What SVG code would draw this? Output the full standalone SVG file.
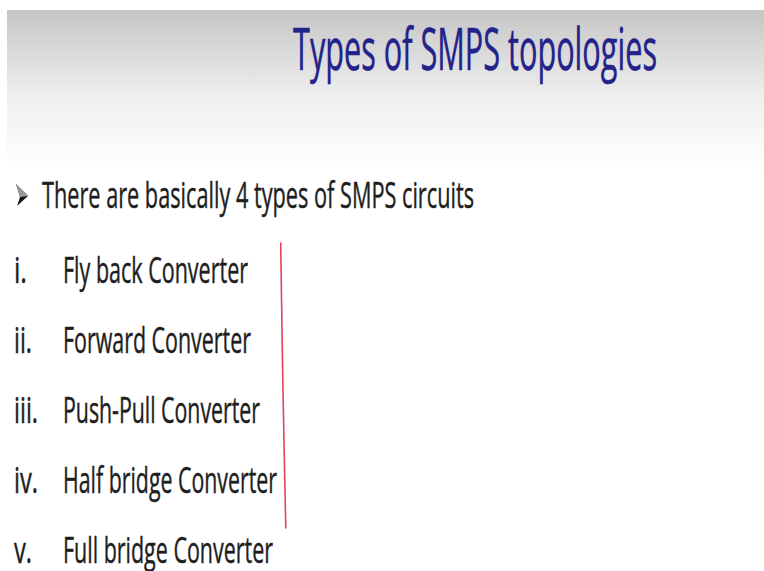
<svg xmlns="http://www.w3.org/2000/svg" width="764" height="571" viewBox="0 0 764 571">
  <defs>
    <linearGradient id="hdr" x1="0" y1="0" x2="0" y2="1">
      <stop offset="0" stop-color="#c6c6c6"/>
      <stop offset="0.55" stop-color="#efefef"/>
      <stop offset="1" stop-color="#ffffff"/>
    </linearGradient>
  </defs>
  <style>
    .title { font-family: "Open Sans", "Noto Sans", sans-serif; font-size: 58px; fill: #22228a; stroke: #22228a; stroke-width: 0.5px; }
    .body, .num { font-family: "Open Sans", "Noto Sans", sans-serif; font-size: 37px; fill: #1e1e1e; stroke: #1e1e1e; stroke-width: 0.45px; }
  </style>
  <rect width="764" height="571" fill="#ffffff"/>
  <!-- header band -->
  <rect x="7" y="10" width="757" height="160" fill="url(#hdr)"/>
  <text class="title" x="293" y="70" textLength="364" lengthAdjust="spacingAndGlyphs">Types of SMPS topologies</text>

  <!-- arrow bullet -->
  <g id="bullet">
    <polygon points="16,184 28,196 17,206 20,197" fill="#1a1a1a"/>
    <polygon points="16,184 28,196 20,197" fill="#9a9a9a"/>
  </g>
  <text class="body" x="42" y="208" textLength="432" lengthAdjust="spacingAndGlyphs">There are basically 4 types of SMPS circuits</text>

  <g id="item1">
    <text class="num" x="14" y="283" textLength="13" lengthAdjust="spacingAndGlyphs">i.</text>
    <text class="body" x="63" y="283" textLength="185" lengthAdjust="spacingAndGlyphs">Fly back Converter</text>
  </g>
  <g id="item2">
    <text class="num" x="14" y="353" textLength="18" lengthAdjust="spacingAndGlyphs">ii.</text>
    <text class="body" x="63" y="353" textLength="188" lengthAdjust="spacingAndGlyphs">Forward Converter</text>
  </g>
  <g id="item3">
    <text class="num" x="14" y="423" textLength="24" lengthAdjust="spacingAndGlyphs">iii.</text>
    <text class="body" x="63" y="423" textLength="197" lengthAdjust="spacingAndGlyphs">Push-Pull Converter</text>
  </g>
  <g id="item4">
    <text class="num" x="14" y="493" textLength="24" lengthAdjust="spacingAndGlyphs">iv.</text>
    <text class="body" x="63" y="493" textLength="214" lengthAdjust="spacingAndGlyphs">Half bridge Converter</text>
  </g>
  <g id="item5">
    <text class="num" x="14" y="563" textLength="18" lengthAdjust="spacingAndGlyphs">v.</text>
    <text class="body" x="63" y="563" textLength="210" lengthAdjust="spacingAndGlyphs">Full bridge Converter</text>
  </g>

  <!-- hand-drawn red bracket line -->
  <g id="connectors">
    <path d="M280.7,243 Q282.5,385 285.8,528" fill="none" stroke="#e2435a" stroke-width="1.6" stroke-linecap="round"/>
  </g>
</svg>
